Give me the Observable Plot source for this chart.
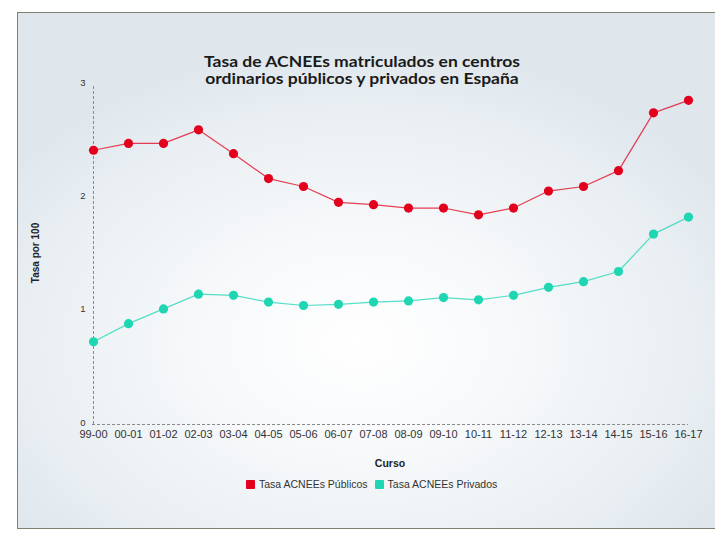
<!DOCTYPE html>
<html>
<head>
<meta charset="utf-8">
<script src="https://cdn.jsdelivr.net/npm/d3@7"></script>
<script src="https://cdn.jsdelivr.net/npm/@observablehq/plot@0.6"></script>
<style>
  html, body { margin: 0; padding: 0; background: #ffffff; }
  #wrap { position: relative; width: 715px; height: 534px; overflow: hidden; background: #ffffff; font-family: "Liberation Sans", sans-serif; }
  #frame { position: absolute; left: 17px; top: 12px; width: 710px; height: 515px; border: 1.5px solid #7f7f72;
    background: radial-gradient(ellipse 60% 58% at 48% 64%, #ffffff 0%, #f6f8fa 40%, #e8eef2 80%, #dfe7ed 100%); }
  #chart { position: absolute; left: 0; top: 0; }
  .title { position: absolute; left: 362px; top: 53px; transform: translateX(-50%) scaleX(1.13); text-align: center; font-family: Lato, sans-serif; font-weight: bold; font-size: 15.5px; line-height: 17px; color: #1a1a1a; white-space: nowrap; }
  .ylab { position: absolute; left: 35px; top: 253px; transform: translate(-50%, -50%) rotate(-90deg); font-weight: bold; font-size: 10px; color: #222; white-space: nowrap; }
  .xlab { position: absolute; left: 390px; top: 463px; transform: translate(-50%, -50%); font-weight: bold; font-size: 10.5px; color: #222; }
  .legend { position: absolute; left: 246px; top: 478px; font-size: 10.5px; color: #333; display: flex; align-items: center; white-space: nowrap; }
  .sw { display: inline-block; width: 9px; height: 9px; border-radius: 1px; margin-right: 4px; }
</style>
</head>
<body>
<div id="wrap">
  <div id="frame"></div>
  <div id="chart"></div>
  <div class="title">Tasa de ACNEEs matriculados en centros<br>ordinarios públicos y privados en España</div>
  <div class="ylab">Tasa por 100</div>
  <div class="xlab">Curso</div>
  <div class="legend" id="legend"></div>
</div>
<script>
const cursos = ["99-00","00-01","01-02","02-03","03-04","04-05","05-06","06-07","07-08","08-09","09-10","10-11","11-12","12-13","13-14","14-15","15-16","16-17"];
const publicos = [2.42,2.48,2.48,2.60,2.39,2.17,2.10,1.96,1.94,1.91,1.91,1.85,1.91,2.06,2.10,2.24,2.75,2.86];
const privados = [0.73,0.89,1.02,1.15,1.14,1.08,1.05,1.06,1.08,1.09,1.12,1.10,1.14,1.21,1.26,1.35,1.68,1.83];
const seriesNames = ["Tasa ACNEEs Públicos","Tasa ACNEEs Privados"];
const seriesColors = ["#e2001c","#1fd6b3"];
const yTicks = [0,1,2,3];

const data = [];
cursos.forEach((c,i) => {
  data.push({curso: c, valor: publicos[i], serie: seriesNames[0]});
  data.push({curso: c, valor: privados[i], serie: seriesNames[1]});
});

const plot = Plot.plot({
  width: 715,
  height: 534,
  marginLeft: 92,
  marginRight: 27,
  marginTop: 84,
  marginBottom: 110,
  style: {background: "transparent", fontFamily: "Liberation Sans, sans-serif", color: "#333"},
  x: {type: "point", domain: cursos, padding: 0, label: null},
  y: {domain: [0,3], label: null},
  color: {domain: seriesNames, range: seriesColors},
  marks: [
    Plot.ruleX([cursos[0]], {y1: 0, y2: 3, stroke: "#8a8a8a", strokeDasharray: "3,2", strokeWidth: 1}),
    Plot.ruleY([0], {stroke: "#8a8a8a", strokeDasharray: "3,2", strokeWidth: 1}),
    Plot.axisY({ticks: yTicks, tickSize: 0, tickPadding: 7, fontSize: 9.5, dy: -2, label: null, tickFormat: d3.format("d")}),
    Plot.axisX({tickSize: 0, tickPadding: 6, fontSize: 11, label: null}),
    Plot.line(data, {x: "curso", y: "valor", stroke: "serie", z: "serie", strokeWidth: 1.2, strokeOpacity: 0.75}),
    Plot.dot(data, {x: "curso", y: "valor", fill: "serie", r: 4.6, stroke: "none"})
  ]
});
document.getElementById("chart").appendChild(plot);

const leg = document.getElementById("legend");
seriesNames.forEach((n,i) => {
  const s = document.createElement("span");
  s.className = "sw";
  s.style.background = seriesColors[i];
  const t = document.createElement("span");
  t.textContent = n;
  t.style.marginRight = i === 0 ? "7px" : "0";
  leg.appendChild(s);
  leg.appendChild(t);
});
</script>
</body>
</html>
